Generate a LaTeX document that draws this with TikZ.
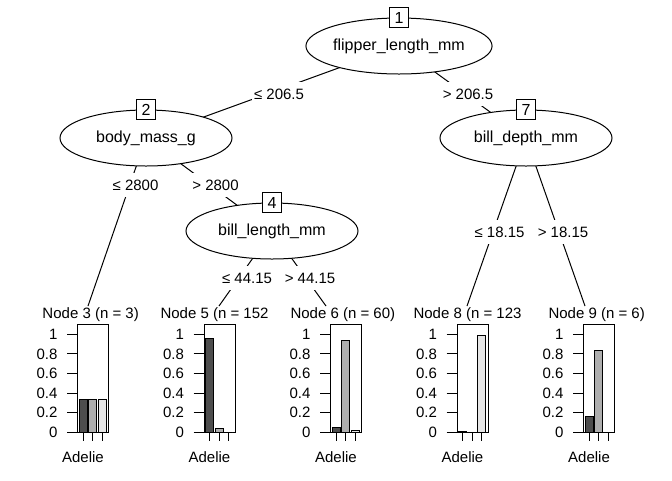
\documentclass[tikz,border=0pt]{standalone}
\usepackage{fontspec}
\setmainfont{Liberation Sans}
\usetikzlibrary{shapes.geometric}
\definecolor{cA}{HTML}{4D4D4D}
\definecolor{cB}{HTML}{AEAEAE}
\definecolor{cC}{HTML}{E6E6E6}
\newcommand{\tpanel}[5]{%
  \node[draw, anchor=north west, minimum width=23.25pt, minimum height=81.2pt, inner sep=0pt] (#1) at (#2,324) {};
  \draw[barstyle, fill=cA] (#2+2,432.3) rectangle (#2+10,432.3-98*#3);
  \draw[barstyle, fill=cB] (#2+11.5,432.3) rectangle (#2+19.5,432.3-98*#4);
  \draw[barstyle, fill=cC] (#2+21,432.3) rectangle (#2+29,432.3-98*#5);
  \foreach \v/\t in {0/0,0.2/0.2,0.4/0.4,0.6/0.6,0.8/0.8,1/1}{
    \draw (#2-10,432.3-98*\v) -- (#2,432.3-98*\v);
    \node[ticklab] at (#2-19,432.3-98*\v) {\t};
  }
  \foreach \d in {6,15.5,25}{\draw (#2+\d,432.3) -- (#2+\d,441);}
  \node[smalltext] (#1lev) at (#2+6,457) {Adelie};
}
\begin{document}
\begin{tikzpicture}[x=0.75pt,y=-0.75pt,line width=0.75pt,
  innernode/.style={ellipse, draw, fill=white, minimum width=129pt, minimum height=42pt, inner sep=0pt, font=\fontsize{12}{14}\selectfont},
  idbox/.style={draw, fill=white, minimum width=14.5pt, minimum height=15.5pt, inner sep=0pt, line width=0.75pt, font=\fontsize{12}{14}\selectfont},
  elab/.style={fill=white, inner xsep=1.5pt, inner ysep=5pt, text height=8pt, text depth=0pt, font=\fontsize{11.25}{13}\selectfont},
  smalltext/.style={inner sep=0pt, font=\fontsize{11.25}{13}\selectfont},
  ticklab/.style={anchor=east, inner sep=0pt, font=\fontsize{11.25}{13}\selectfont},
  termtitle/.style={anchor=west, inner sep=0pt, fill=white, font=\fontsize{11.25}{13}\selectfont},
  barstyle/.style={draw=black, line width=0.6pt}
]
\useasboundingbox (0,0) rectangle (672,480);
\fill[white] (0,0) rectangle (672,480);

% node centres
\coordinate (c1) at (399,46);
\coordinate (c2) at (146,138);
\coordinate (c4) at (272,231);
\coordinate (c7) at (526,138);
\coordinate (e3) at (88,306);
\coordinate (e5) at (219,306);
\coordinate (e6) at (326,306);
\coordinate (e8) at (467,306);
\coordinate (e9) at (585,306);

% edges
\draw (c1) -- (c2);
\draw (c1) -- (c7);
\draw (c2) -- (e3);
\draw (c2) -- (c4);
\draw (c4) -- (e5);
\draw (c4) -- (e6);
\draw (c7) -- (e8);
\draw (c7) -- (e9);

% edge labels
\node[elab] (l12) at (279,94) {≤ 206.5};
\node[elab] (l17) at (468,94) {> 206.5};
\node[elab] (l23) at (135.5,185) {≤ 2800};
\node[elab] (l24) at (215.5,185) {> 2800};
\node[elab] (l45) at (247,278) {≤ 44.15};
\node[elab] (l46) at (310,278) {> 44.15};
\node[elab] (l78) at (499.5,232) {≤ 18.15};
\node[elab] (l79) at (563,232) {> 18.15};

% inner nodes
\node[innernode] (n1) at (c1) {flipper\_length\_mm};
\node[innernode] (n2) at (c2) {body\_mass\_g};
\node[innernode] (n4) at (c4) {bill\_length\_mm};
\node[innernode] (n7) at (c7) {bill\_depth\_mm};
\node[idbox] (id1) at (n1.north) {1};
\node[idbox] (id2) at (n2.north) {2};
\node[idbox] (id4) at (n4.north) {4};
\node[idbox] (id7) at (n7.north) {7};

% terminal nodes
\node[termtitle] (t3) at (42,315) {Node 3 (n = 3)};
\node[termtitle] (t5) at (160,315) {Node 5 (n = 152};
\node[termtitle] (t6) at (290,315) {Node 6 (n = 60)};
\node[termtitle] (t8) at (413,315) {Node 8 (n = 123};
\node[termtitle] (t9) at (548,315) {Node 9 (n = 6)};

\tpanel{b3}{77}{0.3333}{0.3333}{0.3333}
\tpanel{b5}{203.5}{0.9605}{0.0395}{0}
\tpanel{b6}{330}{0.05}{0.9333}{0.0167}
\tpanel{b8}{456.5}{0.0081}{0}{0.9919}
\tpanel{b9}{583}{0.1667}{0.8333}{0}
\end{tikzpicture}
\end{document}
